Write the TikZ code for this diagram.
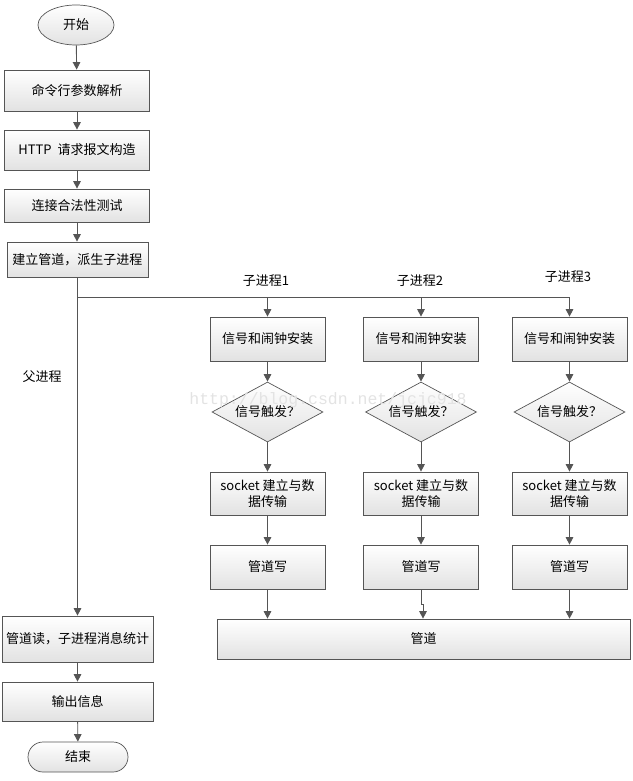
\documentclass[tikz,border=0pt]{standalone}
\usepackage{fontspec}
\setmainfont{Noto Sans CJK SC}
\newfontfamily\wmfont{Liberation Mono}
\usetikzlibrary{shapes.geometric,arrows.meta}
\definecolor{edge}{HTML}{555555}
\definecolor{boxbot}{HTML}{E2E2E2}
\begin{document}
\begin{tikzpicture}[x=1pt,y=-1pt,
  font=\fontsize{13}{15.5}\selectfont,
  shade base/.style={draw=edge, line width=0.7pt, top color=white, bottom color=boxbot, inner sep=1pt, align=center},
  box/.style={shade base, rectangle, minimum width=#1},
  box/.default=145pt,
  cbox/.style={shade base, rectangle, minimum width=115pt},
  dec/.style={shade base, diamond, aspect=1.85, minimum width=111pt, minimum height=60pt, inner sep=0pt},
  arr/.style={draw=edge, line width=0.9pt, -{Triangle[length=7.5pt,width=7.5pt]}},
  ln/.style={draw=edge, line width=0.9pt},
  lbl/.style={inner sep=0pt}]
\useasboundingbox (0,0) rectangle (632,781);

% main column
\node[shade base, ellipse, minimum width=76pt, minimum height=40pt] (start) at (76,25) {开始};
\node[box, minimum height=41pt] (b1) at (77,90.5) {命令行参数解析};
\node[box, minimum height=40pt] (b2) at (77,150) {HTTP\ \ 请求报文构造};
\node[box, minimum height=33pt] (b3) at (77,205.5) {连接合法性测试};
\node[box=141pt, minimum height=35pt] (b4) at (77.5,259.5) {建立管道，派生子进程};

\coordinate (j) at (77.5,297);

% child columns
\node[cbox, minimum height=44pt] (s1) at (267.5,339) {信号和闹钟安装};
\node[cbox, minimum height=44pt] (s2) at (421,339) {信号和闹钟安装};
\node[cbox, minimum height=44pt] (s3) at (569.5,339) {信号和闹钟安装};

\node[dec] (d1) at (267.5,412) {信号触发？};
\node[dec] (d2) at (421,412) {信号触发？};
\node[dec] (d3) at (569.5,412) {信号触发？};

\node[cbox, minimum height=43pt] (k1) at (267.5,493.5) {socket 建立与数\\据传输};
\node[cbox, minimum height=43pt] (k2) at (421,493.5) {socket 建立与数\\据传输};
\node[cbox, minimum height=43pt] (k3) at (569.5,493.5) {socket 建立与数\\据传输};

\node[cbox, minimum height=44pt] (w1) at (267.5,567) {管道写};
\node[cbox, minimum height=44pt] (w2) at (421,567) {管道写};
\node[cbox, minimum height=44pt] (w3) at (569.5,567) {管道写};

\node[box=413pt, minimum height=40pt] (pipe) at (423.5,639) {管道};

% bottom of main column
\node[box=151pt, minimum height=46pt] (rd) at (77.5,639) {管道读，子进程消息统计};
\node[box=151pt, minimum height=39pt] (out) at (77.5,701.5) {输出信息};
\node[shade base, rectangle, rounded corners=15pt, minimum width=100pt, minimum height=30pt] (end) at (78,757) {结束};

% labels
\node[lbl] (l1) at (266,281) {子进程1};
\node[lbl] (l2) at (420,281) {子进程2};
\node[lbl] (l3) at (568,277) {子进程3};
\node[lbl] (lp) at (42,377) {父进程};

% connectors
\draw[arr] (start) -- (b1);
\draw[arr] (b1) -- (b2);
\draw[arr] (b2) -- (b3);
\draw[arr] (b3) -- (b4.north -| b3.south);
\draw[ln] (b4.south) -- (j);
\draw[ln] (j) -- (j -| s3.north);
\draw[arr] (j -| s1.north) -- (s1.north);
\draw[arr] (j -| s2.north) -- (s2.north);
\draw[arr] (j -| s3.north) -- (s3.north);
\draw[arr] (j) -- (j |- rd.north);

\foreach \i in {1,2,3}{
  \draw[arr] (s\i) -- (d\i);
  \draw[arr] (d\i) -- (k\i);
  \draw[arr] (k\i) -- (w\i);
}
\draw[arr] (w1.south) -- (w1.south |- pipe.north);
\draw[arr] (w2.south) -- ++(0,15) -- ++(2,0) coordinate (jog) -- (jog |- pipe.north);
\draw[arr] (w3.south) -- (w3.south |- pipe.north);

\draw[arr] (rd) -- (out);
\draw[arr] (out) -- (end);

% watermark
\node[lbl, text=gray!22, font=\wmfont\fontsize{16.5}{18}\selectfont] (wm) at (328,400) {http://blog.csdn.net/jcjc918};
\end{tikzpicture}
\end{document}
